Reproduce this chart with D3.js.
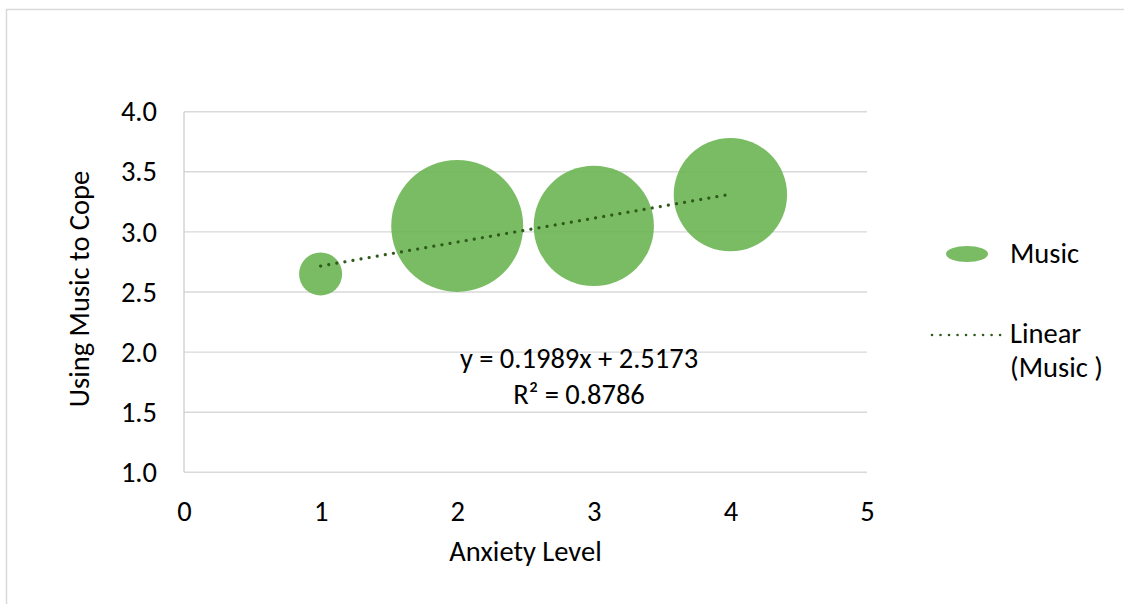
<!DOCTYPE html>
<html>
<head>
<meta charset="utf-8">
<script src="https://cdn.jsdelivr.net/npm/d3@7/dist/d3.min.js"></script>
<style>
  html, body { margin: 0; padding: 0; background: #fff; }
  svg { display: block; }
  text { font-family: Carlito, Calibri, Lato, "Open Sans", sans-serif; fill: #000; }
</style>
</head>
<body>
<svg id="chart" width="1124" height="604"></svg>
<script>
// Anxiety level vs. use of music to cope; bubble size = number of respondents
const anxietyLevels = [1, 2, 3, 4];
const musicCoping   = [2.65, 3.05, 3.05, 3.31];
const respondents   = [15, 141, 117, 104];

const xTicks = [0, 1, 2, 3, 4, 5];
const yTicks = [1.0, 1.5, 2.0, 2.5, 3.0, 3.5, 4.0];

// Linear trendline as reported
const trendSlope = 0.1989;
const trendIntercept = 2.5173;
const trendR2 = 0.8786;

const FS = "28.5px";
const svg = d3.select("#chart");
const W = 1124, H = 604;

// chart frame
svg.append("rect")
  .attr("x", 6.5).attr("y", 9.5)
  .attr("width", W + 10).attr("height", H + 10)
  .attr("fill", "#fff").attr("stroke", "#d9d9d9").attr("stroke-width", 1.5);

const plot = { left: 184, right: 867, top: 111.7, bottom: 472.3 };

const x = d3.scaleLinear().domain([0, 5]).range([plot.left, plot.right]);
const y = d3.scaleLinear().domain([1, 4]).range([plot.bottom, plot.top]);
const r = d3.scaleSqrt().domain([0, d3.max(respondents)]).range([0, 66]);

// horizontal gridlines
svg.append("g").selectAll("line").data(yTicks).join("line")
  .attr("x1", plot.left).attr("x2", plot.right)
  .attr("y1", d => y(d)).attr("y2", d => y(d))
  .attr("stroke", "#d9d9d9").attr("stroke-width", 1.4);

// y axis line
svg.append("line")
  .attr("x1", plot.left).attr("x2", plot.left)
  .attr("y1", plot.top).attr("y2", plot.bottom)
  .attr("stroke", "#d0d0d0").attr("stroke-width", 1.4);

// y axis tick labels
const yAxis = d3.axisLeft(y).tickValues(yTicks).tickFormat(d3.format(".1f")).tickSize(0).tickPadding(27);
const gy = svg.append("g").attr("transform", `translate(${plot.left},0)`).call(yAxis);
gy.select(".domain").remove();
gy.selectAll("text").style("font-size", FS).attr("fill", "#000");

// x axis tick labels
const xAxis = d3.axisBottom(x).tickValues(xTicks).tickFormat(d3.format("d")).tickSize(0).tickPadding(28.5);
const gx = svg.append("g").attr("transform", `translate(0,${plot.bottom})`).call(xAxis);
gx.select(".domain").remove();
gx.selectAll("text").style("font-size", FS).attr("fill", "#000");

// bubbles
const points = anxietyLevels.map((a, i) => ({ a, v: musicCoping[i], n: respondents[i] }));
svg.append("g").selectAll("circle").data(points).join("circle")
  .attr("cx", d => x(d.a)).attr("cy", d => y(d.v)).attr("r", d => r(d.n))
  .attr("fill", "#6bb552").attr("fill-opacity", 0.9);

// trendline (dotted)
const x0 = d3.min(anxietyLevels), x1 = d3.max(anxietyLevels);
svg.append("line")
  .attr("x1", x(x0)).attr("y1", y(trendSlope * x0 + trendIntercept))
  .attr("x2", x(x1)).attr("y2", y(trendSlope * x1 + trendIntercept))
  .attr("stroke", "#2f5a1c").attr("stroke-width", 3.2)
  .attr("stroke-linecap", "round").attr("stroke-dasharray", "0.01 8.2");

// trendline equation
const eq = svg.append("text").attr("text-anchor", "middle").style("font-size", FS);
eq.append("tspan").attr("x", 579).attr("y", 368)
  .text(`y = ${trendSlope}x + ${trendIntercept}`);
eq.append("tspan").attr("x", 579).attr("y", 404)
  .text(`R² = ${trendR2}`);

// axis titles
svg.append("text").attr("x", x(2.5)).attr("y", 561).attr("text-anchor", "middle")
  .style("font-size", FS).text("Anxiety Level");
svg.append("text").attr("transform", "translate(89,289) rotate(-90)")
  .attr("text-anchor", "middle").style("font-size", FS).text("Using Music to Cope");

// legend
const lg = svg.append("g");
lg.append("ellipse").attr("cx", 967).attr("cy", 254).attr("rx", 21).attr("ry", 8)
  .attr("fill", "#6bb552").attr("fill-opacity", 0.9);
lg.append("text").attr("x", 1010).attr("y", 263).style("font-size", FS).text("Music");
lg.append("line").attr("x1", 932).attr("x2", 1001).attr("y1", 335).attr("y2", 335)
  .attr("stroke", "#2f5a1c").attr("stroke-width", 2.6)
  .attr("stroke-linecap", "round").attr("stroke-dasharray", "0.01 8.5");
lg.append("text").attr("x", 1010).attr("y", 343).style("font-size", FS).text("Linear");
lg.append("text").attr("x", 1010).attr("y", 377).style("font-size", FS).text("(Music )");
</script>
</body>
</html>
